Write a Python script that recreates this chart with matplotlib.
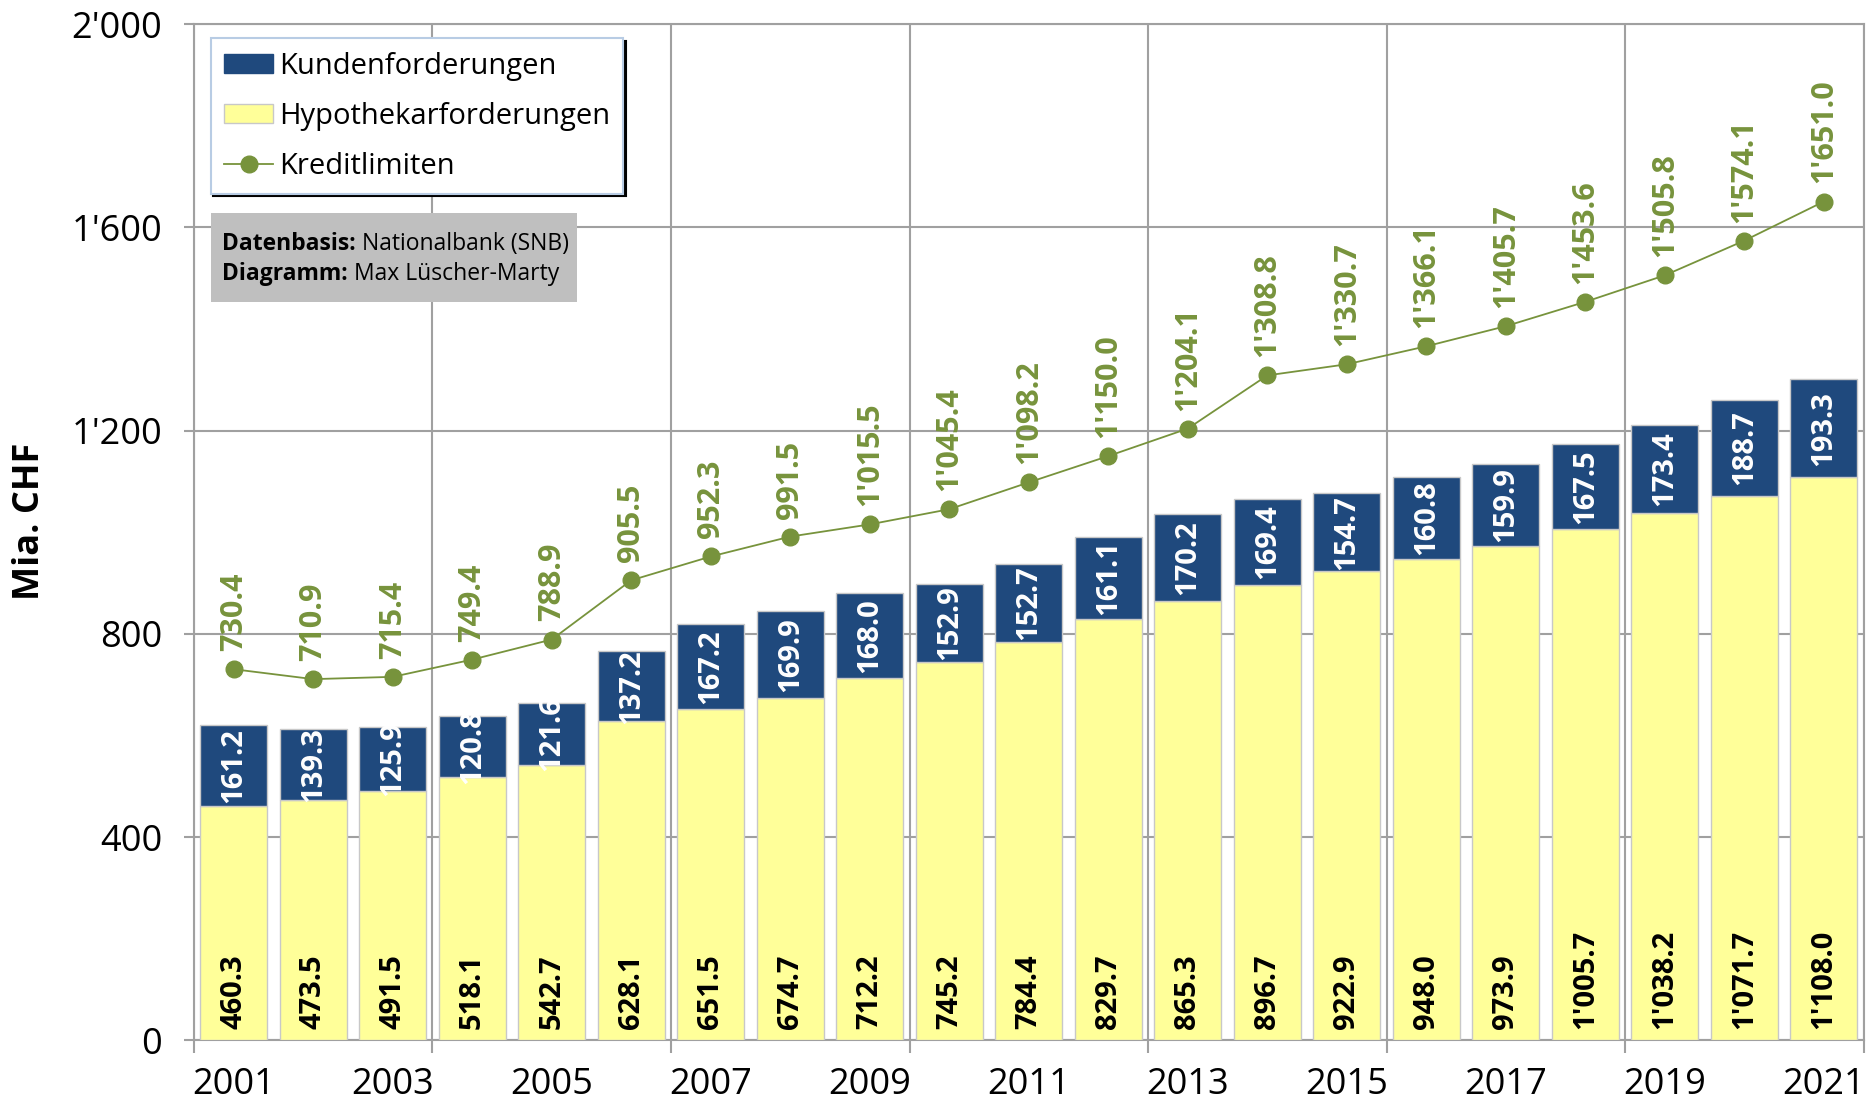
import matplotlib
matplotlib.use("Agg")
import matplotlib.pyplot as plt
from matplotlib.patches import Patch, Rectangle
from matplotlib.lines import Line2D
import numpy as np

plt.rcParams["font.family"] = ["Open Sans", "DejaVu Sans"]

years = list(range(2001, 2022))
hypothekar = [460.3, 473.5, 491.5, 518.1, 542.7, 628.1, 651.5, 674.7, 712.2, 745.2,
              784.4, 829.7, 865.3, 896.7, 922.9, 948.0, 973.9, 1005.7, 1038.2, 1071.7, 1108.0]
kunden = [161.2, 139.3, 125.9, 120.8, 121.6, 137.2, 167.2, 169.9, 168.0, 152.9,
          152.7, 161.1, 170.2, 169.4, 154.7, 160.8, 159.9, 167.5, 173.4, 188.7, 193.3]
kredit = [730.4, 710.9, 715.4, 749.4, 788.9, 905.5, 952.3, 991.5, 1015.5, 1045.4,
          1098.2, 1150.0, 1204.1, 1308.8, 1330.7, 1366.1, 1405.7, 1453.6, 1505.8, 1574.1, 1651.0]
y_ticks = [0, 400, 800, 1200, 1600, 2000]

BLUE = "#1F497D"
YELLOW = "#FFFF99"
GREEN = "#77933C"
GRID = "#A0A0A0"


def fmt(v, dec=1):
    s = f"{v:,.{dec}f}"
    return s.replace(",", "'")


fig = plt.figure(figsize=(18.76, 11.02), dpi=100)
ax = fig.add_axes([0.1034, 0.056, 0.890, 0.922])

x = np.arange(len(years))
w = 0.84
ax.bar(x, hypothekar, w, color=YELLOW, edgecolor="#C8C8C8", linewidth=1, zorder=3)
ax.bar(x, kunden, w, bottom=hypothekar, color=BLUE, edgecolor="#C8C8C8", linewidth=1, zorder=3)
ax.plot(x, kredit, color=GREEN, lw=1.3, marker="o", ms=12, zorder=4)

for i in x:
    ax.text(i, 22, fmt(hypothekar[i]), rotation=90, ha="center", va="bottom",
            fontsize=21, fontweight="bold", color="black", zorder=5)
    ax.text(i, hypothekar[i] + kunden[i] / 2, fmt(kunden[i]), rotation=90,
            ha="center", va="center", fontsize=21, fontweight="bold", color="white", zorder=5)
    ax.annotate(fmt(kredit[i]), xy=(i, kredit[i]), xytext=(0, 13), textcoords="offset points",
                rotation=90, ha="center", va="bottom", fontsize=22, fontweight="bold",
                color=GREEN, zorder=5)

ax.set_ylim(0, 2000)
ax.set_xlim(-0.5, len(years) - 0.5)
ax.set_yticks(y_ticks)
ax.set_yticklabels([fmt(v, 0) for v in y_ticks])
ax.tick_params(axis="y", length=7, width=1.5, color=GRID, pad=16, labelsize=26)

# gridlines every 3 categories, labels every 2
ax.set_xticks(np.arange(-0.5, len(years), 3))
ax.set_xticklabels([])
ax.set_xticks(x[::2], minor=True)
ax.set_xticklabels([str(y) for y in years[::2]], minor=True)
ax.tick_params(axis="x", which="major", length=9, width=1.5, color=GRID)
ax.tick_params(axis="x", which="minor", length=0, pad=19, labelsize=26)

ax.grid(True, which="major", color=GRID, lw=1.5, zorder=0)
ax.set_axisbelow(True)
for side in ["left", "bottom", "top", "right"]:
    ax.spines[side].set_color(GRID)
    ax.spines[side].set_linewidth(1.5)

fig.text(0.016, 0.527, "Mia. CHF", rotation=90, ha="center", va="center",
         fontsize=26, fontweight="bold")

handles = [
    Patch(facecolor=BLUE, edgecolor=BLUE),
    Patch(facecolor=YELLOW, edgecolor="#C8C8C8"),
    Line2D([0], [0], color=GREEN, lw=1.3, marker="o", ms=12),
]
leg = ax.legend(handles, ["Kundenforderungen", "Hypothekarforderungen", "Kreditlimiten"],
                loc="upper left", bbox_to_anchor=(0.010, 0.986), fontsize=21,
                frameon=True, fancybox=False, shadow={"color": "black", "alpha": 1},
                borderpad=0.45, handlelength=1.7, handleheight=0.6, handletextpad=0.2,
                labelspacing=0.72, borderaxespad=0)
leg.get_frame().set_edgecolor("#B8CCE4")
leg.get_frame().set_linewidth(1.5)

# source box
ax.add_patch(Rectangle((0.0100, 0.7267), 0.2193, 0.0879, transform=ax.transAxes,
                       facecolor="#BFBFBF", edgecolor="none", zorder=10))
t1 = ax.text(0.017, 0.7842, "Datenbasis:", transform=ax.transAxes, fontsize=16.5,
             fontweight="bold", va="center", zorder=11)
t2 = ax.text(0.017, 0.7538, "Diagramm:", transform=ax.transAxes, fontsize=16.5,
             fontweight="bold", va="center", zorder=11)
ax.annotate(" Nationalbank (SNB)", xy=(1, 0.5), xycoords=t1, va="center", ha="left",
            fontsize=16.5, zorder=11, annotation_clip=False)
ax.annotate(" Max Lüscher-Marty", xy=(1, 0.5), xycoords=t2, va="center", ha="left",
            fontsize=16.5, zorder=11, annotation_clip=False)

fig.savefig("out.png", dpi=100)
